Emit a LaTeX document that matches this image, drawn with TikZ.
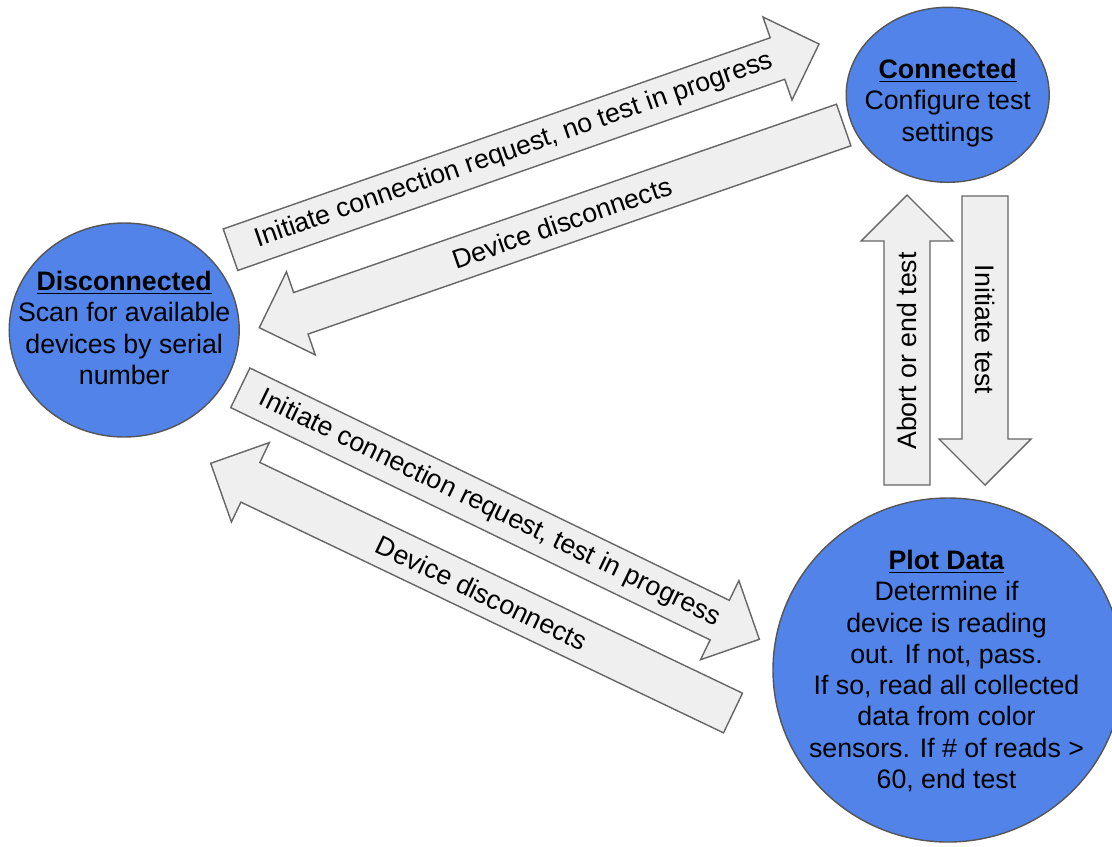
\documentclass[tikz,border=0pt]{standalone}
\usepackage{fontspec}
\setmainfont{Liberation Sans}
\usetikzlibrary{calc,shapes.geometric}
\definecolor{stateblue}{RGB}{81,131,233}
\definecolor{stateline}{RGB}{85,85,85}
\definecolor{arrowfill}{RGB}{239,239,239}
\definecolor{arrowline}{RGB}{102,102,102}
\newcommand{\arrsw}{0.44cm}
\newcommand{\arrhw}{0.88cm}
\newcommand{\arrhl}{0.88cm}
% #1 tail, #2 tip, #3 name, #4 text, #5 text angle, #6 text position
\newcommand{\fatarrow}[6]{%
  \coordinate (#3-b) at ($(#2)!\arrhl!(#1)$);
  \draw[blockarrow] ($(#1)!\arrsw!90:(#2)$) -- ($(#3-b)!\arrsw!90:(#2)$)
     -- ($(#3-b)!\arrhw!90:(#2)$) -- (#2) -- ($(#3-b)!\arrhw!-90:(#2)$)
     -- ($(#3-b)!\arrsw!-90:(#2)$) -- ($(#1)!\arrsw!-90:(#2)$) -- cycle;
  \node[arrowlabel, rotate=#5] (#3-label) at ($(#1)!#6!(#2)$) {#4};
}
\tikzset{
  txt/.style={font=\fontsize{15.2pt}{17.8pt}\selectfont},
  statebox/.style={ellipse, draw=stateline, line width=0.8pt, fill=stateblue, inner sep=0pt},
  statetext/.style={txt, align=center, inner sep=0pt, text=black},
  blockarrow/.style={draw=arrowline, fill=arrowfill, line width=0.8pt, line join=miter},
  arrowlabel/.style={txt, inner sep=0pt, text=black},
}
\begin{document}
\begin{tikzpicture}[x=0.02cm, y=-0.02cm]
\useasboundingbox (0,0) rectangle (1112,846);
\clip (0,0) rectangle (1112,846);
\fill[white] (0,0) rectangle (1112,846);

% states
\node[statebox, minimum width=230*0.02cm, minimum height=214*0.02cm] (disc) at (124.2,330) {};
\node[statetext] (disc-text) at (124.2,328) {\underline{\textbf{Disconnected}}\\Scan for available\\devices by serial\\number};

\node[statebox, minimum width=203*0.02cm, minimum height=175*0.02cm] (conn) at (947.7,94.8) {};
\node[statetext] (conn-text) at (947.7,103) {\underline{\textbf{Connected}}\\Configure test\\settings};

\node[statebox, minimum width=350*0.02cm, minimum height=344*0.02cm] (plot) at (948,670) {};
\node[statetext] (plot-text) at (946.5,671) {\underline{\textbf{Plot Data}}\\Determine if\\device is reading\\out. If not, pass.\\If so, read all collected\\data from color\\sensors. If \# of reads >\\60, end test};

% connector end points
\coordinate (a1t) at (230.5,249.7);
\coordinate (a1h) at (819,44);
\coordinate (a2t) at (843.7,125);
\coordinate (a2h) at (259.3,327.7);
\coordinate (a3t) at (240.3,387.8);
\coordinate (a3h) at (759.3,639.3);
\coordinate (a4t) at (733,713);
\coordinate (a4h) at (210.7,463.3);
\coordinate (a5t) at (907,485);
\coordinate (a5h) at (907,195);
\coordinate (a6t) at (985,196);
\coordinate (a6h) at (985,485);

\fatarrow{a1t}{a1h}{a1}{Initiate connection request, no test in progress}{19.26}{0.482}
\fatarrow{a2t}{a2h}{a2}{Device disconnects}{19.13}{0.482}
\fatarrow{a3t}{a3h}{a3}{Initiate connection request, test in progress}{-25.85}{0.481}
\fatarrow{a4t}{a4h}{a4}{Device disconnects}{-25.55}{0.481}

\renewcommand{\arrsw}{0.46cm}
\renewcommand{\arrhw}{0.92cm}
\renewcommand{\arrhl}{0.92cm}
\fatarrow{a5t}{a5h}{a5}{Abort or end test}{90}{0.462}
\fatarrow{a6t}{a6h}{a6}{Initiate test}{-90}{0.462}
\end{tikzpicture}
\end{document}
